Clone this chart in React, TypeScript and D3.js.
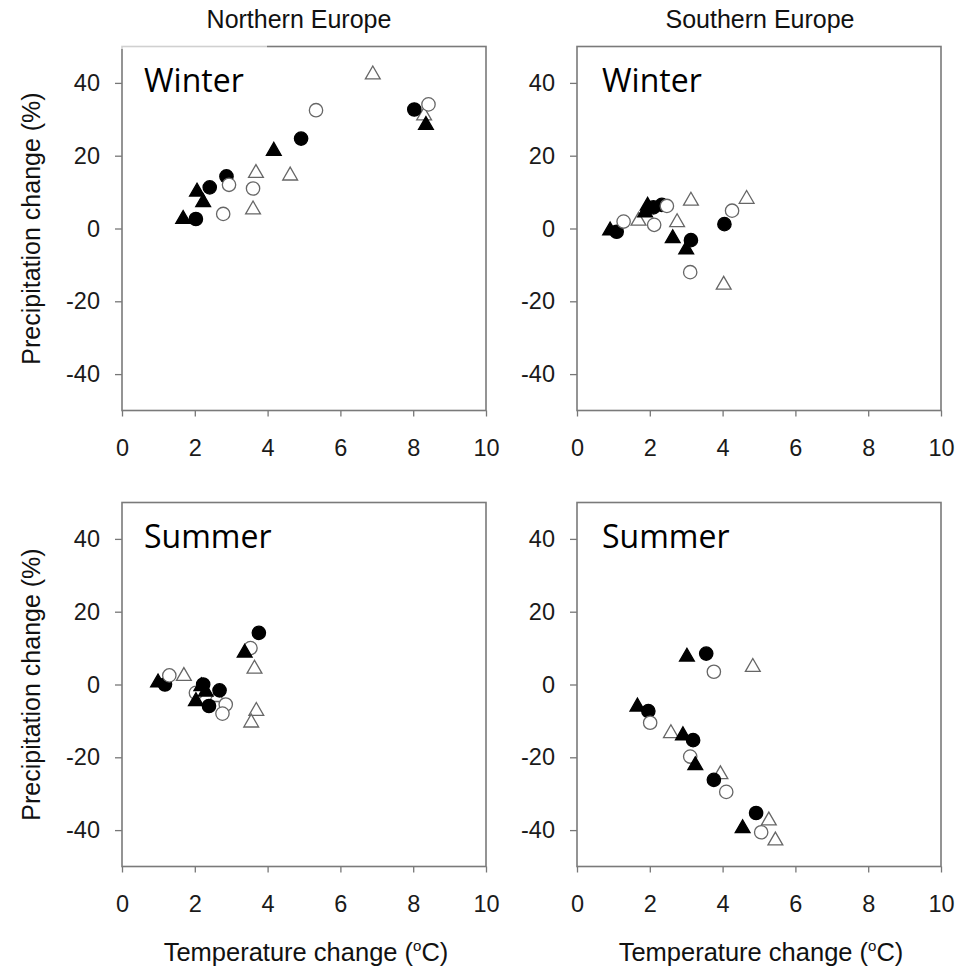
// Scatter panels: temperature vs precipitation change, N/S Europe, winter/summer
import React, { useRef, useEffect } from 'react';
import * as d3 from 'd3';

const X_TICKS = [0, 2, 4, 6, 8, 10];
const Y_TICKS = [-40, -20, 0, 20, 40];
const REGIONS = ['Northern Europe', 'Southern Europe'];
const SEASONS = ['Winter', 'Summer'];

// [temperature change (°C), precipitation change (%)]
const NW_FILLED_CIRCLE = [[2.03, 2.6], [2.41, 11.3], [2.87, 14.3], [4.92, 24.7], [8.03, 32.7]];
const NW_OPEN_CIRCLE = [[2.78, 4.0], [2.94, 12.0], [3.6, 11.0], [5.33, 32.5], [8.42, 34.1]];
const NW_FILLED_TRI = [[1.68, 2.6], [2.06, 10.1], [2.23, 7.2], [4.17, 21.3], [8.35, 28.4]];
const NW_OPEN_TRI = [[3.68, 15.2], [4.62, 14.5], [3.6, 5.2], [6.89, 42.3], [8.3, 31.0]];

const SW_FILLED_CIRCLE = [[1.09, -0.9], [2.1, 5.8], [2.33, 6.5], [3.13, -3.2], [4.05, 1.2]];
const SW_OPEN_CIRCLE = [[1.28, 1.9], [2.12, 1.0], [2.47, 6.2], [3.11, -12.0], [4.26, 4.9]];
const SW_FILLED_TRI = [[0.91, -0.6], [1.94, 6.2], [1.87, 4.4], [2.63, -2.7], [3.0, -5.8]];
const SW_OPEN_TRI = [[1.69, 2.1], [2.75, 1.7], [3.13, 7.6], [4.03, -15.5], [4.66, 8.1]];

const NS_FILLED_CIRCLE = [[1.18, 0], [2.23, 0], [2.68, -1.6], [2.39, -5.9], [3.76, 14.2]];
const NS_OPEN_CIRCLE = [[1.3, 2.5], [2.03, -2.3], [2.85, -5.5], [2.76, -8.0], [3.53, 10.0]];
const NS_FILLED_TRI = [[0.99, 0.5], [2.18, -0.5], [2.03, -4.6], [2.3, -2.0], [3.37, 8.7]];
const NS_OPEN_TRI = [[1.7, 2.3], [3.64, 4.3], [3.69, -7.3], [3.55, -10.5], [2.6, -3.5]];

const SS_FILLED_CIRCLE = [[3.55, 8.5], [1.96, -7.3], [3.19, -15.3], [3.76, -26.2], [4.92, -35.3]];
const SS_OPEN_CIRCLE = [[3.76, 3.5], [2.01, -10.5], [3.11, -19.8], [4.1, -29.5], [5.06, -40.6]];
const SS_FILLED_TRI = [[3.02, 7.6], [1.66, -6.1], [2.91, -14.0], [3.25, -22.2], [4.55, -39.5]];
const SS_OPEN_TRI = [[4.83, 4.8], [2.58, -13.4], [3.94, -24.7], [5.27, -37.4], [5.45, -42.9]];

const PANELS = [
  { col: 0, row: 0, series: { openTri: NW_OPEN_TRI, filledCircle: NW_FILLED_CIRCLE, openCircle: NW_OPEN_CIRCLE, filledTri: NW_FILLED_TRI } },
  { col: 1, row: 0, series: { openTri: SW_OPEN_TRI, filledCircle: SW_FILLED_CIRCLE, openCircle: SW_OPEN_CIRCLE, filledTri: SW_FILLED_TRI } },
  { col: 0, row: 1, series: { openTri: NS_OPEN_TRI, filledCircle: NS_FILLED_CIRCLE, openCircle: NS_OPEN_CIRCLE, filledTri: NS_FILLED_TRI } },
  { col: 1, row: 1, series: { openTri: SS_OPEN_TRI, filledCircle: SS_FILLED_CIRCLE, openCircle: SS_OPEN_CIRCLE, filledTri: SS_FILLED_TRI } },
];

const MARKERS = {
  openTri: { type: d3.symbolTriangle, size: 95, fill: '#fff', stroke: '#666' },
  filledCircle: { type: d3.symbolCircle, size: 140, fill: '#000', stroke: '#000' },
  openCircle: { type: d3.symbolCircle, size: 140, fill: '#fff', stroke: '#666' },
  filledTri: { type: d3.symbolTriangle, size: 95, fill: '#000', stroke: '#000' },
};

const W = 962;
const H = 970;
const PANEL_X = [122, 577];
const PANEL_Y = [46.5, 502.5];
const SIZE = 364;
const FONT = '"Liberation Sans", Arial, sans-serif';

export default function App() {
  const svgRef = useRef<SVGSVGElement>(null);

  useEffect(() => {
    if (!svgRef.current) return;
    const svg = d3.select(svgRef.current);
    svg.selectAll('*').remove();

    svg.append('rect').attr('width', W).attr('height', H).attr('fill', '#fff');

    PANELS.forEach((p) => {
      const left = PANEL_X[p.col];
      const top = PANEL_Y[p.row];
      const g = svg.append('g').attr('transform', `translate(${left},${top})`);

      const x = d3.scaleLinear().domain([0, 10]).range([0, SIZE]);
      const y = d3.scaleLinear().domain([-50, 50]).range([SIZE, 0]);

      // Axes
      const yAxis = g.append('g')
        .call(d3.axisLeft(y).tickValues(Y_TICKS).tickSize(7).tickSizeOuter(0).tickPadding(15).tickFormat((d) => String(d)));
      const xAxis = g.append('g')
        .attr('transform', `translate(0,${SIZE})`)
        .call(d3.axisBottom(x).tickValues(X_TICKS).tickSize(6).tickSizeOuter(0).tickPadding(23).tickFormat((d) => String(d)));
      [yAxis, xAxis].forEach((a) => {
        a.select('.domain').remove();
        a.selectAll('.tick line').attr('stroke', '#777').attr('stroke-width', 1.3);
        a.selectAll('text').attr('fill', '#1a1a1a').style('font-family', FONT).style('font-size', '23.5px');
      });

      // Frame
      g.append('rect')
        .attr('width', SIZE).attr('height', SIZE)
        .attr('fill', 'none').attr('stroke', '#7a7a7a').attr('stroke-width', 1.6);

      // Points
      (Object.keys(p.series) as (keyof typeof MARKERS)[]).forEach((key) => {
        const m = MARKERS[key];
        const sym = d3.symbol().type(m.type).size(m.size);
        g.selectAll(null)
          .data(p.series[key])
          .join('path')
          .attr('d', sym)
          .attr('transform', (d) => `translate(${x(d[0])},${y(d[1])})`)
          .attr('fill', m.fill)
          .attr('stroke', m.stroke)
          .attr('stroke-width', 1.3);
      });

      // Season label (top-left one sits on a white box over the frame)
      if (p.col === 0 && p.row === 0) {
        g.append('rect').attr('x', -1).attr('y', -2.5).attr('width', 146).attr('height', 5)
          .attr('fill', '#fff').attr('opacity', 0.65);
      }
      g.append('text')
        .attr('x', p.col === 0 ? 22 : 25)
        .attr('y', 45.5)
        .attr('fill', '#000')
        .style('font-family', '"Open Sans", sans-serif')
        .style('font-size', '32px')
        .text(SEASONS[p.row]);

      // Column titles
      if (p.row === 0) {
        svg.append('text')
          .attr('x', left + SIZE / 2 - (p.col === 0 ? 5 : -1))
          .attr('y', 28)
          .attr('text-anchor', 'middle')
          .attr('fill', '#111')
          .style('font-family', FONT)
          .style('font-size', '25px')
          .text(REGIONS[p.col]);
      }

      // Y title
      if (p.col === 0) {
        svg.append('text')
          .attr('transform', `translate(40,${top + SIZE / 2}) rotate(-90)`)
          .attr('text-anchor', 'middle')
          .attr('fill', '#111')
          .style('font-family', FONT)
          .style('font-size', '25px')
          .text('Precipitation change (%)');
      }

      // X title
      if (p.row === 1) {
        const t = svg.append('text')
          .attr('x', left + SIZE / 2 + 2)
          .attr('y', 961)
          .attr('text-anchor', 'middle')
          .attr('fill', '#111')
          .style('font-family', FONT)
          .style('font-size', '25.5px');
        t.append('tspan').text('Temperature change (');
        t.append('tspan').attr('dy', -10).style('font-size', '15px').text('o');
        t.append('tspan').attr('dy', 10).text('C)');
      }
    });
  }, []);

  return (
    <svg
      ref={svgRef}
      width={W}
      height={H}
      style={{ position: 'absolute', left: 0, top: 0, display: 'block' }}
    />
  );
}
